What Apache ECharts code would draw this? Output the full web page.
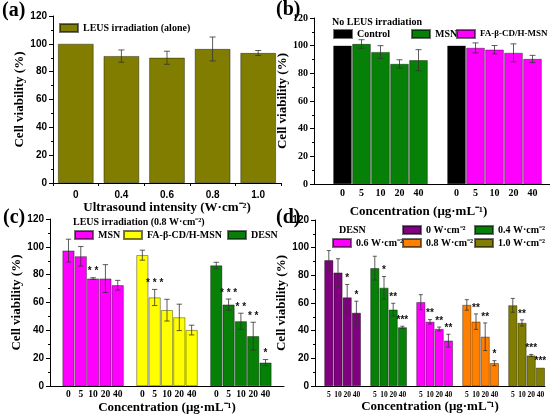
<!DOCTYPE html>
<html>
<head>
<meta charset="utf-8">
<script src="https://cdn.jsdelivr.net/npm/echarts@6/dist/echarts.min.js"></script>
<style>
html, body { margin: 0; padding: 0; background: #fff; }
#main { width: 550px; height: 416px; }
</style>
</head>
<body>
<div id="main"></div>
<script>
// ---- data ----
// (a) ultrasound alone
var aIntensity = ['0', '0.4', '0.6', '0.8', '1.0'];
var aViability = [100, 91.2, 90.0, 96.3, 93.4];
var aError = [0, 4.4, 4.7, 8.6, 1.8];

// (b) no LEUS
var bConc = ['0', '5', '10', '20', '40'];
var bControl = [100, 100];
var bMSN = [101.2, 95.4, 86.8, 89.5];
var bMSNErr = [3.1, 4.6, 3.0, 7.6];
var bFA = [98.4, 97.1, 94.8, 90.4];
var bFAErr = [3.6, 3.0, 6.5, 2.6];

// (c) LEUS 0.8 W/cm2
var cConc = ['0', '5', '10', '20', '40'];
var cMSN = [97.3, 93.2, 77.2, 77.2, 72.4];
var cMSNErr = [8.2, 7.0, 0.6, 10.0, 3.5];
var cMSNStars = ['', '', '**', '', ''];
var cFA = [94.0, 63.6, 54.5, 49.3, 40.2];
var cFAErr = [3.6, 5.8, 7.8, 9.5, 3.5];
var cFAStars = ['', '***', '', '', ''];
var cDESN = [86.6, 58.5, 46.5, 35.8, 16.8];
var cDESNErr = [2.3, 4.0, 5.8, 10.0, 2.2];
var cDESNStars = ['', '***', '**', '**', '*'];

// (d) DESN at different intensities
var dConc = ['5', '10', '20', '40'];
var dPower = ['0 W·cm⁻²', '0.4 W·cm⁻²', '0.6 W·cm⁻²', '0.8 W·cm⁻²', '1.0 W·cm⁻²'];
var d00 = [90.9, 82.0, 64.0, 52.9];
var d00Err = [7.0, 10.0, 9.4, 8.4];
var d00Stars = ['', '', '*', '*'];
var d04 = [85.2, 71.0, 55.2, 42.4];
var d04Err = [8.6, 8.2, 4.6, 0.8];
var d04Stars = ['', '*', '**', '***'];
var d06 = [60.6, 46.4, 41.2, 32.8];
var d06Err = [5.4, 1.6, 1.4, 4.6];
var d06Stars = ['', '**', '**', '**'];
var d08 = [58.6, 46.5, 35.6, 16.5];
var d08Err = [3.8, 5.6, 10.0, 1.8];
var d08Stars = ['', '**', '**', '*'];
var d10 = [58.3, 45.6, 22.0, 13.2];
var d10Err = [5.0, 2.2, 0.8, 0];
var d10Stars = ['', '**', '***', '***'];

// ---- styles ----
var SERIF = '"Liberation Serif", "Times New Roman", serif';
var SANS = '"Liberation Sans", Arial, sans-serif';
var OLIVE = '#807d00', GREEN = '#078007', MAGENTA = '#ff00ff',
    YELLOW = '#ffff00', PURPLE = '#800080', ORANGE = '#ff8000', BLACK = '#000';

// ---- helpers ----
function place(total, start, values) {
    var out = [];
    for (var i = 0; i < total; i++) out.push('-');
    values.forEach(function (v, i) { out[start + i] = v; });
    return out;
}
function errItems(start, values, errs) {
    return values.map(function (v, i) { return [start + i, v, errs[i]]; });
}
function slots(labels, groups) {
    // leading pad, groups separated by one empty slot
    var out = [''];
    for (var g = 0; g < groups; g++) {
        if (g > 0) out.push('');
        out = out.concat(labels);
    }
    return out;
}

function errorRenderer(stars, spaced) {
    return function (params, api) {
        var x = api.value(0), v = api.value(1), e = api.value(2);
        var hi = api.coord([x, v + e]);
        var lo = api.coord([x, v - e]);
        var half = Math.min(3, api.size([1, 0])[0] * 0.22);
        var st = { stroke: '#333', lineWidth: 0.8 };
        var kids = [];
        if (e > 0) {
            kids.push({ type: 'line', shape: { x1: hi[0], y1: hi[1], x2: lo[0], y2: lo[1] }, style: st });
            kids.push({ type: 'line', shape: { x1: hi[0] - half, y1: hi[1], x2: hi[0] + half, y2: hi[1] }, style: st });
            kids.push({ type: 'line', shape: { x1: lo[0] - half, y1: lo[1], x2: lo[0] + half, y2: lo[1] }, style: st });
        }
        var s = stars ? stars[params.dataIndex] : '';
        if (s) {
            if (spaced) s = s.split('').join(' ');
            kids.push({
                type: 'text', x: hi[0], y: hi[1] - 1,
                style: { text: s, align: 'center', verticalAlign: 'bottom',
                    fontFamily: SANS, fontWeight: 'bold', fontSize: 10, fill: '#111' }
            });
        }
        return { type: 'group', children: kids };
    };
}
function errSeries(k, items, stars, spaced) {
    return {
        type: 'custom', xAxisIndex: k, yAxisIndex: k, z: 5, silent: true,
        encode: { x: 0, y: 1 }, data: items,
        renderItem: errorRenderer(stars, spaced)
    };
}
function barSeries(k, name, color, data, gap) {
    return {
        type: 'bar', name: name, xAxisIndex: k, yAxisIndex: k, data: data,
        barGap: '-100%', barCategoryGap: gap,
        itemStyle: { color: color, borderColor: 'rgba(0,0,0,0.55)', borderWidth: 0.7 }
    };
}
function yAxisCfg(k, font, nameGap) {
    return {
        gridIndex: k, type: 'value', min: 0, max: 120, interval: 20,
        name: 'Cell viability (%)', nameLocation: 'middle', nameGap: nameGap,
        nameTextStyle: { fontFamily: SERIF, fontWeight: 'bold', fontSize: 13, color: '#000' },
        axisLine: { show: true, lineStyle: { color: '#000', width: 1 } },
        axisTick: { show: true, length: 4, lineStyle: { color: '#000' } },
        minorTick: { show: true, splitNumber: 2, length: 2, lineStyle: { color: '#000' } },
        axisLabel: { fontFamily: font, fontWeight: 'bold', fontSize: 10, color: '#000', margin: 6 },
        splitLine: { show: false }
    };
}
function xAxisCfg(k, cats, font, size, margin, name, nameGap, ticks, namePad) {
    return {
        gridIndex: k, type: 'category', data: cats,
        axisLine: { show: true, lineStyle: { color: '#000', width: 1 } },
        axisTick: { show: ticks, length: 3, lineStyle: { color: '#000' } },
        axisLabel: { interval: 0, fontFamily: font, fontWeight: 'bold', fontSize: size, color: '#000', margin: margin },
        splitLine: { show: false },
        name: name, nameLocation: 'middle', nameGap: nameGap,
        nameTextStyle: { fontFamily: SERIF, fontWeight: 'bold', fontSize: 13, color: '#000', padding: namePad || 0 }
    };
}
function legendItem(name, left, top, size) {
    return {
        data: [name], left: left, top: top, padding: 0, icon: 'rect',
        itemWidth: 18, itemHeight: 8, selectedMode: false,
        formatter: function (n) { return n.split('|')[0]; },
        textStyle: { fontFamily: SERIF, fontWeight: 'bold', fontSize: size || 10, color: '#000' }
    };
}
function label(text, left, top, size) {
    return {
        type: 'text', left: left, top: top,
        style: { text: text, fontFamily: SERIF, fontWeight: 'bold', fontSize: size, fill: '#000' }
    };
}

// ---- layout of slots ----
var bCats = slots(bConc, 2).concat(['']);      // 13
var cCats = slots(cConc, 3).concat(['']);      // 19
var dCats = slots(dConc, 5);                   // 25
var bN = bCats.length, cN = cCats.length, dN = dCats.length;
var dColors = [PURPLE, GREEN, MAGENTA, ORANGE, OLIVE];
var dVals = [d00, d04, d06, d08, d10];
var dErrs = [d00Err, d04Err, d06Err, d08Err, d10Err];
var dStars = [d00Stars, d04Stars, d06Stars, d08Stars, d10Stars];

var series = [];
// (a)
series.push(barSeries(0, 'LEUS irradiation (alone)', OLIVE, aViability, '22%'));
series.push(errSeries(0, errItems(0, aViability, aError), null));
// (b)
var bControlData = place(bN, 1, [bControl[0]]);
bControlData[7] = bControl[1];
series.push(barSeries(1, 'Control', BLACK, bControlData, '3%'));
series.push(barSeries(1, 'MSN|b', GREEN, place(bN, 2, bMSN), '3%'));
series.push(barSeries(1, 'FA-β-CD/H-MSN|b', MAGENTA, place(bN, 8, bFA), '3%'));
series.push(errSeries(1, errItems(2, bMSN, bMSNErr).concat(errItems(8, bFA, bFAErr)), null));
// (c)
series.push(barSeries(2, 'MSN|c', MAGENTA, place(cN, 1, cMSN), '3%'));
series.push(barSeries(2, 'FA-β-CD/H-MSN|c', YELLOW, place(cN, 7, cFA), '3%'));
series.push(barSeries(2, 'DESN|c', GREEN, place(cN, 13, cDESN), '3%'));
series.push(errSeries(2,
    errItems(1, cMSN, cMSNErr).concat(errItems(7, cFA, cFAErr), errItems(13, cDESN, cDESNErr)),
    cMSNStars.concat(cFAStars, cDESNStars), true));
// (d)
var dItems = [], dStarList = [];
dPower.forEach(function (p, g) {
    var start = 1 + g * 5;
    series.push(barSeries(3, p, dColors[g], place(dN, start, dVals[g]), '3%'));
    dItems = dItems.concat(errItems(start, dVals[g], dErrs[g]));
    dStarList = dStarList.concat(dStars[g]);
});
series.push(errSeries(3, dItems, dStarList, false));

var chart = echarts.init(document.getElementById('main'));
chart.setOption({
    animation: false,
    backgroundColor: '#fff',
    grid: [
        { left: 53, right: 269, top: 16, bottom: 233, outerBoundsMode: 'none' },
        { left: 314, right: -11, top: 18, bottom: 232, outerBoundsMode: 'none' },
        { left: 50, right: 266, top: 219, bottom: 30, outerBoundsMode: 'none' },
        { left: 315, right: 5, top: 220, bottom: 30, outerBoundsMode: 'none' }
    ],
    xAxis: [
        xAxisCfg(0, aIntensity, SANS, 10, 7, 'Ultrasound intensity (W·cm⁻²)', 12, true),
        xAxisCfg(1, bCats, SERIF, 10, 4, 'Concentration (μg·mL⁻¹)', 21, false, [0, 38, 0, 0]),
        xAxisCfg(2, cCats, SERIF, 9.5, 4, 'Concentration (μg·mL⁻¹)', 12, false),
        xAxisCfg(3, dCats, SERIF, 7.5, 5, 'Concentration (μg·mL⁻¹)', 14, false)
    ],
    yAxis: [
        yAxisCfg(0, SANS, 17),
        yAxisCfg(1, SERIF, 16),
        yAxisCfg(2, SANS, 12),
        yAxisCfg(3, SANS, 13)
    ],
    legend: [
        legendItem('LEUS irradiation (alone)', 59, 23),
        legendItem('Control', 333, 29),
        legendItem('MSN|b', 411, 29),
        legendItem('FA-β-CD/H-MSN|b', 456, 29, 9),
        legendItem('MSN|c', 74, 230),
        legendItem('FA-β-CD/H-MSN|c', 123, 230),
        legendItem('DESN|c', 227, 230),
        legendItem(dPower[0], 402, 225),
        legendItem(dPower[1], 474, 225),
        legendItem(dPower[2], 332, 238),
        legendItem(dPower[3], 402, 238),
        legendItem(dPower[4], 474, 238)
    ],
    graphic: [
        label('(a)', 2, 1, 20),
        label('(b)', 276, 0, 20),
        label('(c)', 3, 208, 20),
        label('(d)', 276, 208, 20),
        label('No LEUS irradiation', 332, 17, 10),
        label('LEUS irradiation (0.8 W·cm⁻²)', 73, 217, 10),
        label('DESN', 339, 225, 10)
    ],
    series: series
});
</script>
</body>
</html>
